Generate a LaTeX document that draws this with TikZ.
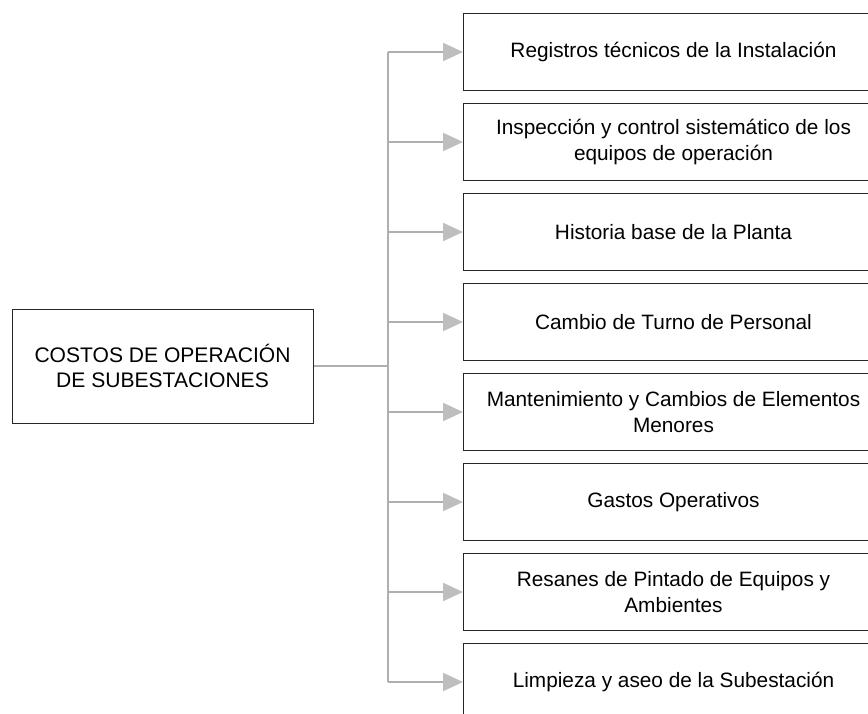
\documentclass[tikz,border=0pt]{standalone}
\usepackage{fontspec}
\setmainfont{Liberation Sans}
\usetikzlibrary{arrows.meta,positioning}
\definecolor{linegray}{RGB}{175,175,175}
\definecolor{tipgray}{RGB}{190,190,190}

\begin{document}
\begin{tikzpicture}[x=0.75pt,y=-0.75pt,node distance=9pt,
		box/.style={draw=black!85,line width=0.75pt,minimum width=315pt,minimum height=57.75pt,
			anchor=north west,align=center,font=\fontsize{15.6}{19.5}\selectfont},
		bigbox/.style={draw=black!85,line width=0.75pt,minimum width=225.75pt,minimum height=85.5pt,
			align=center,font=\fontsize{15.8}{19}\selectfont},
		link/.style={draw=linegray,line width=1.5pt},
		tip/.style={-{Triangle[length=15pt,width=13.5pt,color=tipgray]}}]
		\clip (0,0) rectangle (868,714);
		\fill[white] (0,0) rectangle (868,714);

		\node[bigbox] (cost) at (162.5,366) {COSTOS DE OPERACIÓN\\DE SUBESTACIONES};

		\node[box] (r1) at (463,13) {Registros técnicos de la Instalación};
		\node[box] (r2) [below=of r1.south west,anchor=north west] {Inspección y control sistemático de los\\equipos de operación};
		\node[box] (r3) [below=of r2.south west,anchor=north west] {Historia base de la Planta};
		\node[box] (r4) [below=of r3.south west,anchor=north west] {Cambio de Turno de Personal};
		\node[box] (r5) [below=of r4.south west,anchor=north west] {Mantenimiento y Cambios de Elementos\\Menores};
		\node[box] (r6) [below=of r5.south west,anchor=north west] {Gastos Operativos};
		\node[box] (r7) [below=of r6.south west,anchor=north west] {Resanes de Pintado de Equipos y\\Ambientes};
		\node[box] (r8) [below=of r7.south west,anchor=north west] {Limpieza y aseo de la Subestación};

		\coordinate (j) at (388,366);
		\path[link] (cost.east) -- (j);
		\path[link] (j |- r1.west) -- (j |- r8.west);
		\foreach \n in {1,...,8}
			\path[link,tip] (j |- r\n.west) -- (r\n.west);
	\end{tikzpicture}
\end{document}
